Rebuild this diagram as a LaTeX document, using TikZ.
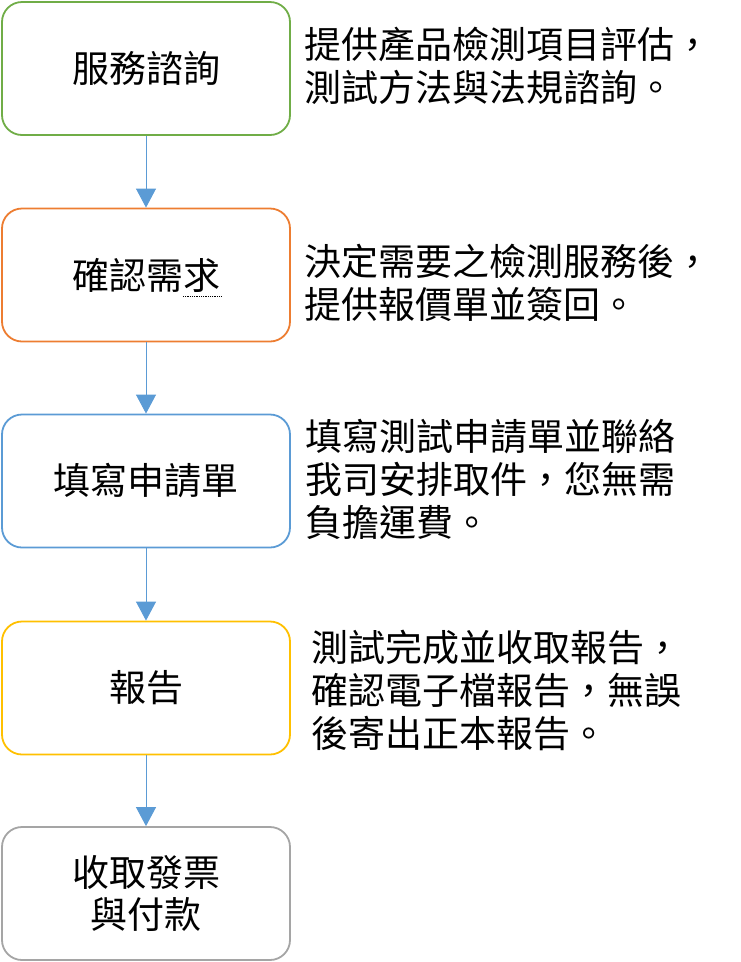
\documentclass[tikz,border=0pt]{standalone}
\usepackage{fontspec}
\usepackage{xcolor}
\usepackage{tikz}
\usetikzlibrary{positioning}
\usetikzlibrary{arrows, shapes, arrows.meta}
\newfontfamily\cjk{Noto Sans CJK TC}
\definecolor{cgreen}{HTML}{70AD47}
\definecolor{corange}{HTML}{ED7D31}
\definecolor{cblue}{HTML}{5B9BD5}
\definecolor{cgold}{HTML}{FFC000}
\definecolor{cgray}{HTML}{A5A5A5}
\tikzstyle{proc} = [rectangle, rounded corners=20pt, minimum width=288pt, minimum height=133pt, text centered, align=center, line width=1.8pt, fill=white, font=\cjk\fontsize{37}{42}\selectfont]
\tikzstyle{desc} = [anchor=west, align=left, inner sep=0pt, font=\cjk\fontsize{37}{43}\selectfont]
\tikzstyle{arrow} = [line width=1pt, color=cblue, -{Triangle[width=20pt,length=19pt]}]

\begin{document}
\begin{tikzpicture}[x=1pt,y=-1pt]
    \useasboundingbox (0,0) rectangle (741,962);
    \node[proc,draw=cgreen] (s1) at (146,68.5) {服務諮詢};
    \node[proc,draw=corange] (s2) at (146,275) {確認需求};
    \node[proc,draw=cblue] (s3) at (146,481) {填寫申請單};
    \node[proc,draw=cgold] (s4) at (146,688) {報告};
    \node[proc,draw=cgray] (s5) at (146,893.5) {收取發票\\與付款};
    \node[desc] (d1) at (304,66) {提供產品檢測項目評估，\\測試方法與法規諮詢。};
    \node[desc] (d2) at (304,283) {決定需要之檢測服務後，\\提供報價單並簽回。};
    \node[desc] (d3) at (305,479) {填寫測試申請單並聯絡\\我司安排取件，您無需\\負擔運費。};
    \node[desc] (d4) at (311,690) {測試完成並收取報告，\\確認電子檔報告，無誤\\後寄出正本報告。};
    \draw [arrow] (s1) -- (s2);
    \draw [arrow] (s2) -- (s3);
    \draw [arrow] (s3) -- (s4);
    \draw [arrow] (s4) -- (s5);
    % dotted mark under the last glyph
    \draw[densely dotted, line width=0.8pt] (183,296) -- (221,296);
\end{tikzpicture}
\end{document}
